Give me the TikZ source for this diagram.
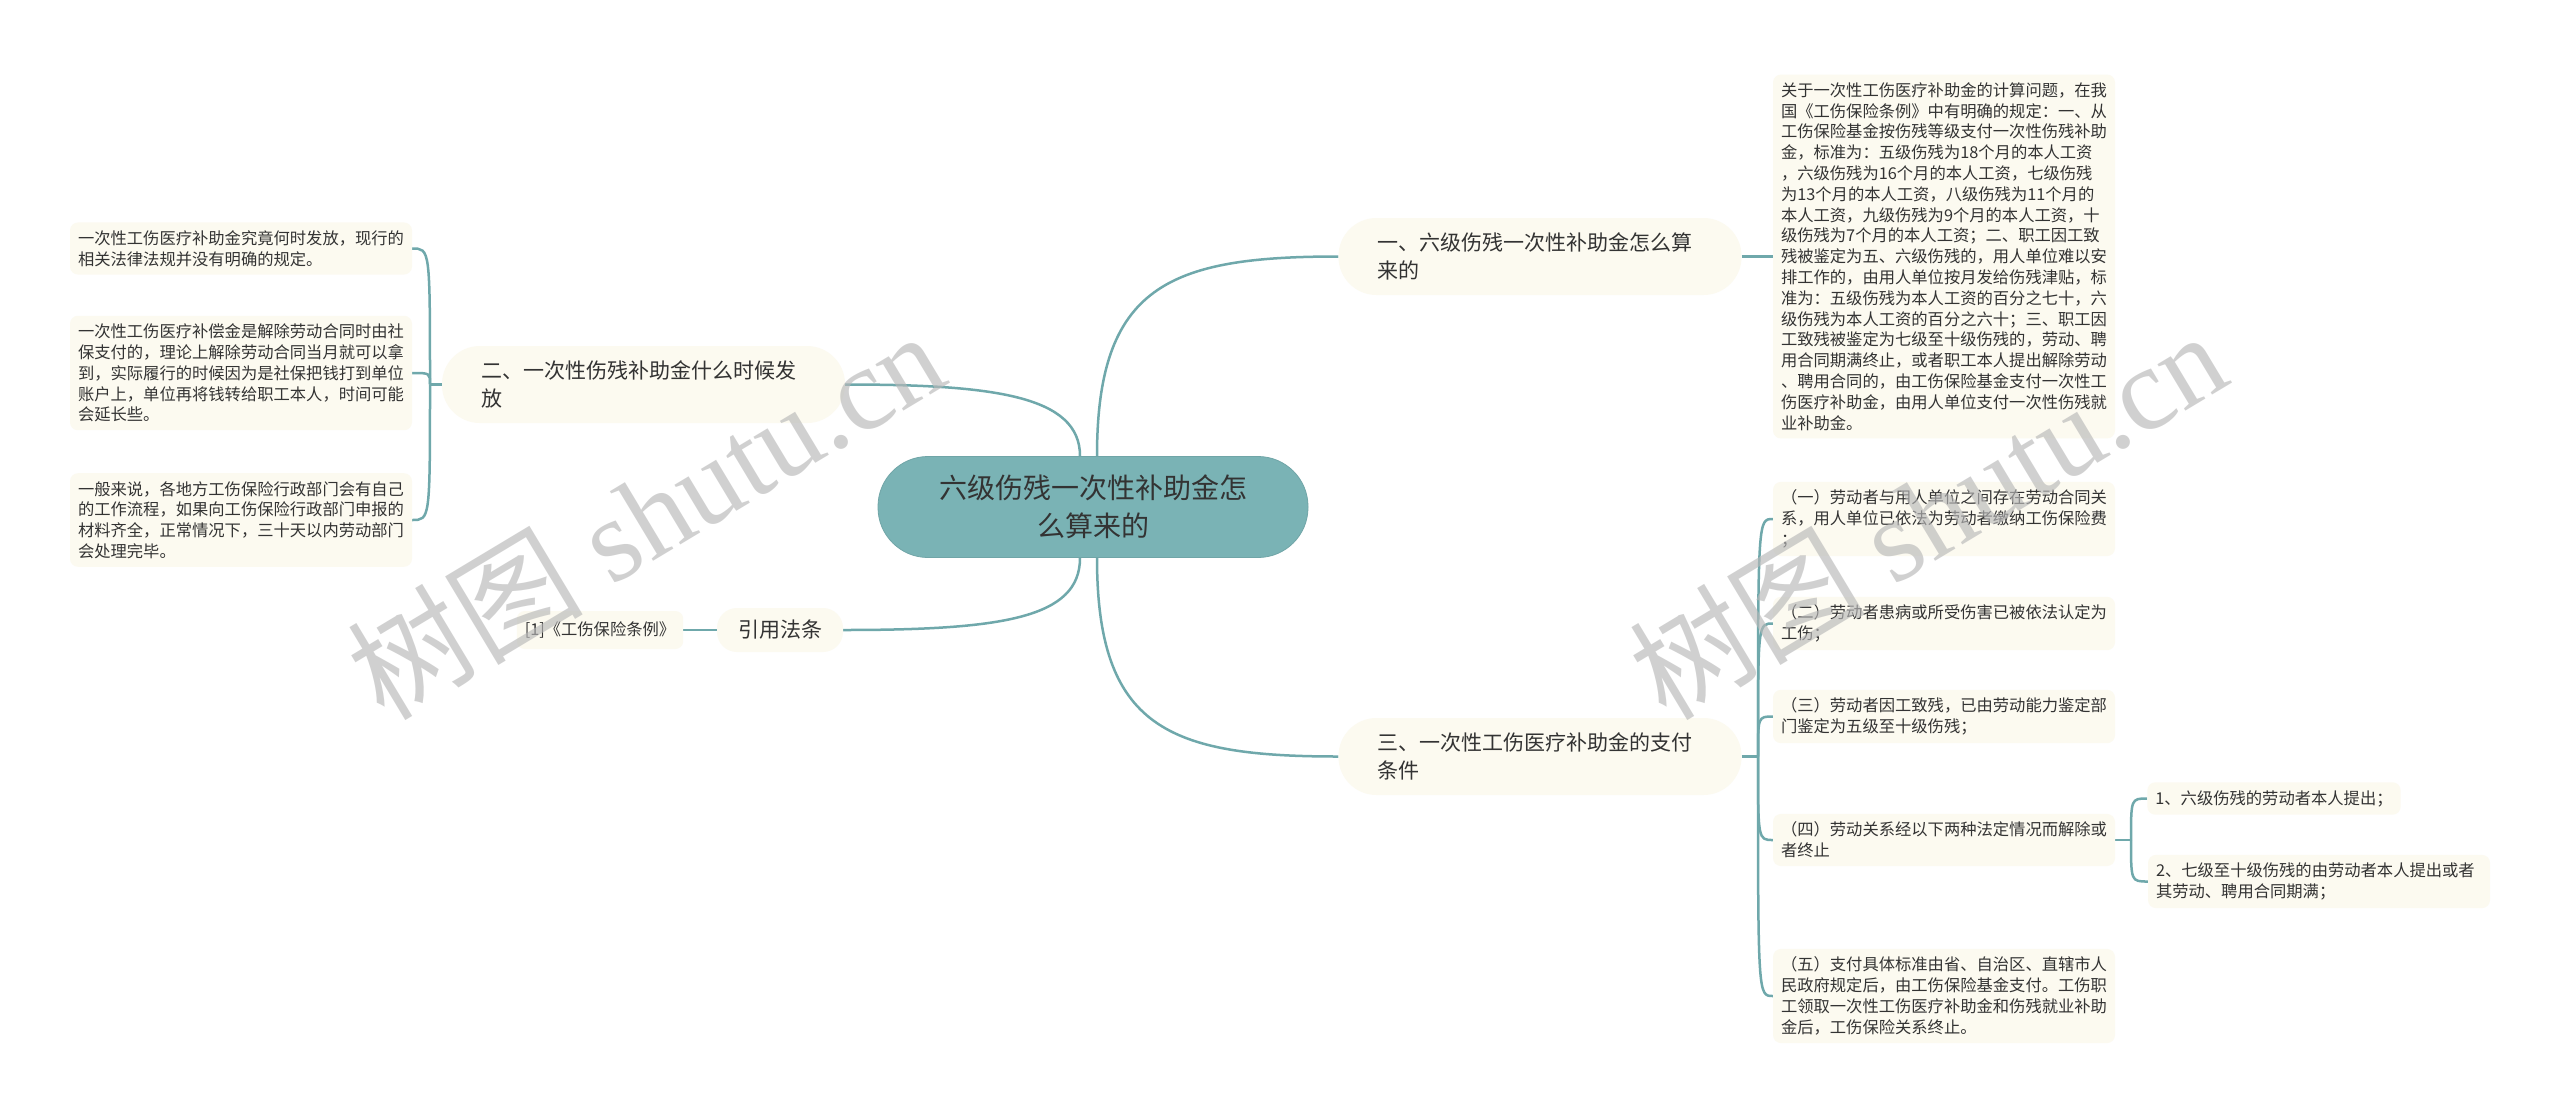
\documentclass[tikz,border=0pt]{standalone}
\usepackage{fontspec}
\setmainfont{Noto Sans CJK SC}
\newfontfamily\wmfont{Liberation Serif}
\newfontfamily\wmcjk{Noto Sans CJK SC}
\usetikzlibrary{backgrounds}
\definecolor{rootfill}{HTML}{7AB3B5}
\definecolor{linec}{HTML}{6FA8AB}
\definecolor{cream}{HTML}{FCFAF0}
\definecolor{txt}{HTML}{333333}
\definecolor{wmc}{HTML}{B8B8B8}
\tikzset{
  conn/.style={draw=linec, line width=2.5pt},
  root/.style={fill=rootfill, draw=rootfill!92!black, line width=0.8pt, rounded corners=50pt, minimum width=430pt, minimum height=101pt, align=center, text=txt, font=\fontsize{28}{38}\selectfont},
  branch/.style={fill=cream, rounded corners=38pt, text width=325pt, inner xsep=39pt, minimum height=77pt, align=left, text=txt, font=\fontsize{21}{28}\selectfont},
  smallbranch/.style={fill=cream, rounded corners=20pt, inner xsep=21pt, minimum height=44pt, text=txt, font=\fontsize{21}{28}\selectfont},
  leaf/.style={fill=cream, rounded corners=8pt, text width=326pt, inner xsep=8pt, inner ysep=8pt, align=left, text=txt, font=\fontsize{16.3}{20.8}\selectfont},
  shortleaf/.style={fill=cream, rounded corners=8pt, inner xsep=8pt, inner ysep=8pt, align=left, text=txt, font=\fontsize{16.3}{20.8}\selectfont},
  wm/.style={rotate=31, text=wmc, opacity=0.65, font=\wmfont\fontsize{118}{118}\selectfont},
}
\begin{document}
\begin{tikzpicture}[x=1pt, y=-1pt]
\useasboundingbox (0,0) rectangle (2560,1117);

% root
\node[root] (root) at (1093,507) {六级伤残一次性补助金怎\\么算来的};

% branch 1
\node[branch] (b1) at (1540,256.5) {一、六级伤残一次性补助金怎么算\\来的};
\node[leaf] (t1) at (1944,256.5) {关于一次性工伤医疗补助金的计算问题，在我\\
国《工伤保险条例》中有明确的规定：一、从\\
工伤保险基金按伤残等级支付一次性伤残补助\\
金，标准为：五级伤残为18个月的本人工资\\
，六级伤残为16个月的本人工资，七级伤残\\
为13个月的本人工资，八级伤残为11个月的\\
本人工资，九级伤残为9个月的本人工资，十\\
级伤残为7个月的本人工资；二、职工因工致\\
残被鉴定为五、六级伤残的，用人单位难以安\\
排工作的，由用人单位按月发给伤残津贴，标\\
准为：五级伤残为本人工资的百分之七十，六\\
级伤残为本人工资的百分之六十；三、职工因\\
工致残被鉴定为七级至十级伤残的，劳动、聘\\
用合同期满终止，或者职工本人提出解除劳动\\
、聘用合同的，由工伤保险基金支付一次性工\\
伤医疗补助金，由用人单位支付一次性伤残就\\
业补助金。};

% branch 2
\node[branch] (b2) at (643.5,384.5) {二、一次性伤残补助金什么时候发\\放};
\node[leaf] (l1) at (241,248.5) {一次性工伤医疗补助金究竟何时发放，现行的\\相关法律法规并没有明确的规定。};
\node[leaf] (l2) at (241,373) {一次性工伤医疗补偿金是解除劳动合同时由社\\保支付的，理论上解除劳动合同当月就可以拿\\到，实际履行的时候因为是社保把钱打到单位\\账户上，单位再将钱转给职工本人，时间可能\\会延长些。};
\node[leaf] (l3) at (241,520) {一般来说，各地方工伤保险行政部门会有自己\\的工作流程，如果向工伤保险行政部门申报的\\材料齐全，正常情况下，三十天以内劳动部门\\会处理完毕。};
\coordinate (j2) at (430,384.5);

% reference branch
\node[smallbranch] (rf) at (780,630) {引用法条};
\node[shortleaf, minimum height=38pt] (rfc) at (600,630) {[1]《工伤保险条例》};

% branch 3
\node[branch] (b3) at (1540,756.5) {三、一次性工伤医疗补助金的支付\\条件};
\node[leaf] (c1) at (1944,519) {（一）劳动者与用人单位之间存在劳动合同关\\系，用人单位已依法为劳动者缴纳工伤保险费\\；};
\node[leaf] (c2) at (1944,623.5) {（二）劳动者患病或所受伤害已被依法认定为\\工伤；};
\node[leaf] (c3) at (1944,716.5) {（三）劳动者因工致残，已由劳动能力鉴定部\\门鉴定为五级至十级伤残；};
\node[leaf] (c4) at (1944,840) {（四）劳动关系经以下两种法定情况而解除或\\者终止};
\node[leaf] (c5) at (1944,996) {（五）支付具体标准由省、自治区、直辖市人\\民政府规定后，由工伤保险基金支付。工伤职\\工领取一次性工伤医疗补助金和伤残就业补助\\金后，工伤保险关系终止。};
\coordinate (j3) at (1758,756.5);
\node[shortleaf] (d1) at (2274,798.5) {1、六级伤残的劳动者本人提出；};
\node[leaf] (d2) at (2319,881.5) {2、七级至十级伤残的由劳动者本人提出或者\\其劳动、聘用合同期满；};
\coordinate (j4) at (2131,840);

% connectors
\begin{pgfonlayer}{background}
\fill[white] (0,0) rectangle (2560,1117);
\draw[conn] ([xshift=4pt]root.north) .. controls +(0,-170) and +(-170,0) .. (b1.west);
\draw[conn] ([xshift=4pt]root.south) .. controls +(0,170) and +(-170,0) .. (b3.west);
\draw[conn] ([xshift=-13pt]root.north) .. controls +(0,-60) and +(150,0) .. (b2.east);
\draw[conn] ([xshift=-13pt]root.south) .. controls +(0,60) and +(160,0) .. (rf.east);
\draw[conn] (b1.east) -- (t1.west);
\draw[conn] (rf.west) -- (rfc.east);
\draw[conn] (b2.west) -- (j2);
\foreach \n in {l1,l2,l3} \draw[conn] (j2) .. controls (j2 |- \n.east) .. (\n.east);
\draw[conn] (b3.east) -- (j3);
\foreach \n in {c1,c2,c3,c4,c5} \draw[conn] (j3) .. controls (j3 |- \n.west) .. (\n.west);
\draw[conn] (c4.east) -- (j4);
\foreach \n in {d1,d2} \draw[conn] (j4) .. controls (j4 |- \n.west) .. (\n.west);
\end{pgfonlayer}

% watermarks
\node[wm] (wm1) at (645,514) {{\wmcjk 树图} shutu.cn};
\node[wm] (wm2) at (1927,514) {{\wmcjk 树图} shutu.cn};
\end{tikzpicture}
\end{document}
